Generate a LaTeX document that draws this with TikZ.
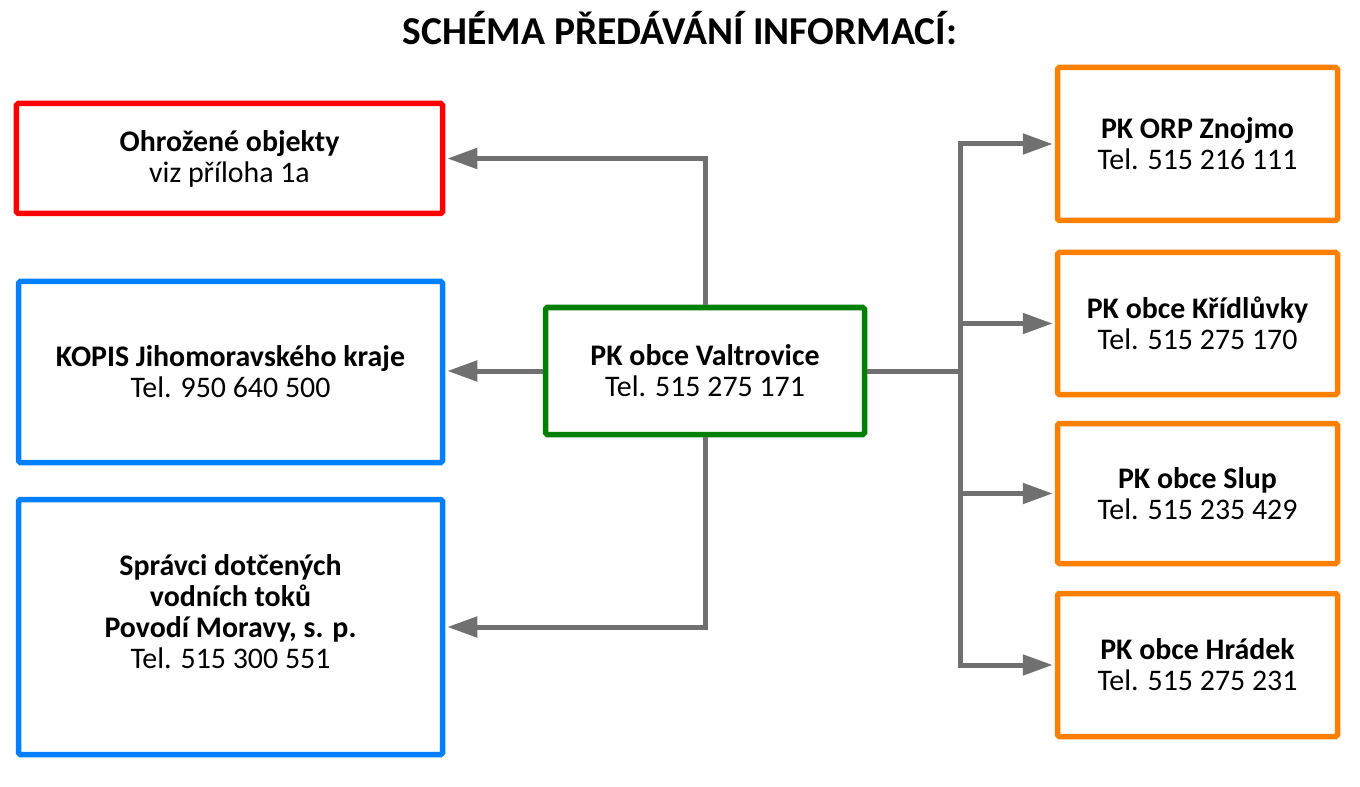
\documentclass[tikz,border=0pt]{standalone}
\usepackage{fontspec}
\setmainfont{Carlito}
\usetikzlibrary{arrows.meta, positioning}

\definecolor{boxred}{HTML}{FF0000}
\definecolor{boxblue}{HTML}{0080FF}
\definecolor{boxgreen}{HTML}{008000}
\definecolor{boxorange}{HTML}{FF8000}
\definecolor{linkgray}{HTML}{707070}

\begin{document}
\begin{tikzpicture}[
    box/.style={draw, line width=0.11cm, rounded corners=1pt, align=center, inner sep=0pt,
        font=\fontsize{17}{17.6}\selectfont},
    orp/.style={box, draw=boxorange, minimum width=5.6cm},
    link/.style={draw=linkgray, line width=0.1cm},
    arr/.style={link, -{Triangle[length=0.6cm, width=0.4cm]}, shorten >=0.04cm}
]
    \useasboundingbox (0, 0) rectangle (27.2, -15.74);

    \node[font=\fontsize{22.5}{26}\selectfont\bfseries, anchor=base] (title) at (13.6, -0.90) {SCHÉMA PŘEDÁVÁNÍ INFORMACÍ:};

    % left side
    \node[box, draw=boxred, minimum width=8.52cm, minimum height=2.2cm] (ohrozene) at (4.59, -3.17)
        {\textbf{Ohrožené objekty}\\viz příloha 1a};
    \node[box, draw=boxblue, minimum width=8.48cm, minimum height=3.62cm] (kopis) at (4.61, -7.44)
        {\textbf{KOPIS Jihomoravského kraje}\\Tel. 950 640 500};
    \node[box, draw=boxblue, minimum width=8.48cm, minimum height=5.1cm] (povodi) at (4.61, -12.54)
        {\textbf{Správci dotčených}\\\textbf{vodních toků}\\\textbf{Povodí Moravy, s. p.}\\Tel. 515 300 551\\\mbox{}};

    % centre
    \node[box, draw=boxgreen, minimum width=6.38cm, minimum height=2.54cm] (valtrovice) at (14.10, -7.42)
        {\textbf{PK obce Valtrovice}\\Tel. 515 275 171};

    % right side
    \node[orp, minimum height=3.06cm] (znojmo) at (23.95, -2.88)
        {\textbf{PK ORP Znojmo}\\Tel. 515 216 111};
    \node[orp, minimum height=2.84cm] (kridluvky) at (23.95, -6.47)
        {\textbf{PK obce Křídlůvky}\\Tel. 515 275 170};
    \node[orp, minimum height=2.8cm] (slup) at (23.95, -9.87)
        {\textbf{PK obce Slup}\\Tel. 515 235 429};
    \node[orp, minimum height=2.86cm] (hradek) at (23.95, -13.30)
        {\textbf{PK obce Hrádek}\\Tel. 515 275 231};

    \coordinate (hub) at (19.2, -7.42);

    \draw[arr] (valtrovice.north) |- (ohrozene.east);
    \draw[arr] (valtrovice.west) -- (kopis.east |- valtrovice.west);
    \draw[arr] (valtrovice.south) |- (povodi.east);
    \draw[link] (valtrovice.east) -- (hub);
    \foreach \target in {znojmo, kridluvky, slup, hradek}
        \draw[arr] (hub) |- (\target.west);
\end{tikzpicture}
\end{document}
